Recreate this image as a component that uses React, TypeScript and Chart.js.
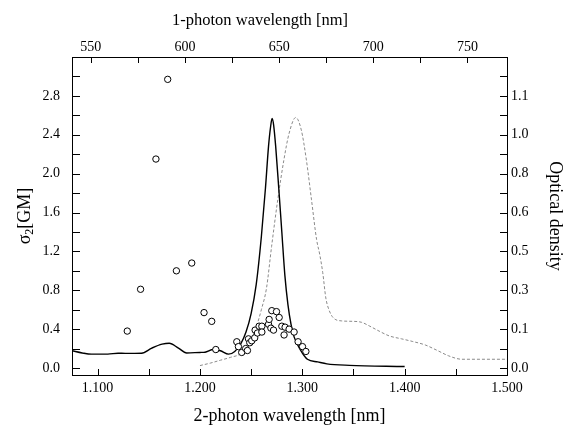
import React, { useEffect, useRef } from 'react';
import { Chart, registerables } from 'chart.js';

Chart.register(...registerables);

// ---- Data ----
// Two-photon cross-section measurements (x: 2-photon wavelength in nm, y: sigma2 in GM)
const tpaWavelength = [
  1129, 1142, 1157, 1168.5, 1177, 1192, 1204, 1211.5, 1215.5,
  1236, 1237.6, 1240.8, 1244.7, 1246.4, 1247.4, 1248.7, 1250.6, 1253.5, 1253.9,
  1256.2, 1257.8, 1260.5, 1260.5, 1267, 1267.6, 1269.3, 1270.2, 1274.8, 1271.9,
  1277.4, 1280, 1283.2, 1282.2, 1287.1, 1292, 1295.9, 1300.2, 1303.5,
];
const tpaSigma = [
  0.38, 0.81, 2.15, 2.97, 1.0, 1.08, 0.57, 0.48, 0.19,
  0.27, 0.22, 0.16, 0.2, 0.18, 0.3, 0.26, 0.28, 0.31, 0.39,
  0.36, 0.43, 0.43, 0.37, 0.45, 0.5, 0.41, 0.59, 0.58, 0.39,
  0.52, 0.43, 0.42, 0.34, 0.4, 0.37, 0.27, 0.22, 0.17,
];

// Solid curve (right axis units)
const solidWavelength = [
  1075, 1085, 1094, 1110, 1120, 1127, 1143, 1153, 1163, 1170, 1179, 1187, 1200, 1205,
  1213, 1220, 1228, 1234, 1240, 1245, 1250, 1255, 1260, 1264, 1267, 1269, 1270.5, 1272,
  1274, 1277, 1280, 1283, 1286, 1289, 1292, 1298, 1305, 1315, 1324, 1346, 1400,
];
const solidValue = [
  0.071, 0.062, 0.057, 0.057, 0.061, 0.06, 0.061, 0.082, 0.098, 0.102, 0.082, 0.062, 0.064, 0.065,
  0.076, 0.071, 0.057, 0.068, 0.1, 0.148, 0.224, 0.344, 0.54, 0.74, 0.912, 0.992, 1.027, 1.0,
  0.912, 0.74, 0.56, 0.38, 0.26, 0.18, 0.128, 0.076, 0.036, 0.025, 0.017, 0.011, 0.006,
];

// Dashed curve: optical density
const odWavelength = [
  1200, 1210, 1220, 1230, 1240, 1250, 1255, 1260, 1265, 1270, 1276, 1282, 1287, 1293.6,
  1299, 1304, 1309, 1314, 1317, 1320, 1323, 1326, 1330, 1338, 1350, 1358, 1366, 1375,
  1385, 1397, 1408, 1420, 1432, 1443, 1456, 1475, 1500,
];
const odValue = [
  0.01, 0.02, 0.032, 0.044, 0.06, 0.116, 0.168, 0.24, 0.328, 0.5, 0.692, 0.856, 0.964, 1.031,
  0.98, 0.856, 0.692, 0.528, 0.468, 0.392, 0.288, 0.24, 0.208, 0.194, 0.192, 0.188, 0.172, 0.152,
  0.132, 0.12, 0.109, 0.095, 0.072, 0.05, 0.036, 0.036, 0.036,
];

const leftTickLabels = ['0.0', '0.4', '0.8', '1.2', '1.6', '2.0', '2.4', '2.8'];
const rightTickLabels = ['0.0', '0.1', '0.3', '0.5', '0.6', '0.8', '1.0', '1.1'];

const FONT = "'Liberation Serif', 'Times New Roman', serif";

const frameTicks = {
  id: 'frameTicks',
  afterDatasetsDraw(chart: any) {
    const { ctx, chartArea: a, scales } = chart;
    ctx.save();
    ctx.strokeStyle = '#000';
    ctx.lineWidth = 1;
    const draw = (id: string, len: number) => {
      const s = scales[id];
      s.ticks.forEach((t: any) => {
        const p = Math.round(s.getPixelForValue(t.value)) + 0.5;
        ctx.beginPath();
        if (id === 'x') { ctx.moveTo(p, a.bottom); ctx.lineTo(p, a.bottom - len); }
        if (id === 'x2') { ctx.moveTo(p, a.top); ctx.lineTo(p, a.top + len); }
        if (id === 'y') { ctx.moveTo(a.left, p); ctx.lineTo(a.left + len, p); }
        if (id === 'y2') { ctx.moveTo(a.right, p); ctx.lineTo(a.right - len, p); }
        ctx.stroke();
      });
    };
    draw('x', 6);
    draw('x2', 6);
    draw('y', 8);
    draw('y2', 7);
    ctx.restore();
  },
  afterDraw(chart: any) {
    const { ctx } = chart;
    ctx.save();
    ctx.fillStyle = '#000';
    // top title
    ctx.font = `16.5px ${FONT}`;
    ctx.textAlign = 'center';
    ctx.textBaseline = 'middle';
    ctx.fillText('1-photon wavelength [nm]', 260, 21);
    // left title with subscript
    ctx.translate(25, 216);
    ctx.rotate(-Math.PI / 2);
    const big = `18px ${FONT}`;
    const small = `12px ${FONT}`;
    ctx.font = big;
    const wS = ctx.measureText('σ').width;
    const wB = ctx.measureText('[GM]').width;
    ctx.font = small;
    const w2 = ctx.measureText('2').width;
    const total = wS + w2 + wB;
    let x = -total / 2;
    ctx.textAlign = 'left';
    ctx.font = big;
    ctx.fillText('σ', x, 0);
    x += wS;
    ctx.font = small;
    ctx.fillText('2', x, 5);
    x += w2;
    ctx.font = big;
    ctx.fillText('[GM]', x, 0);
    ctx.restore();
  },
};

export default function App() {
  const ref = useRef<HTMLCanvasElement | null>(null);

  useEffect(() => {
    if (!ref.current) return;
    Chart.defaults.font.family = FONT;
    Chart.defaults.color = '#000';
    const noGrid = { display: false, drawTicks: false };
    const border = { display: true, color: '#000', width: 1 };
    const chart = new Chart(ref.current, {
      type: 'line',
      data: {
        datasets: [
          {
            type: 'scatter',
            label: 'σ2',
            data: tpaWavelength.map((x, i) => ({ x, y: tpaSigma[i] })),
            xAxisID: 'x',
            yAxisID: 'y',
            showLine: false,
            pointStyle: 'circle',
            pointRadius: 3.2,
            pointBorderWidth: 1,
            pointBorderColor: '#000',
            pointBackgroundColor: '#fff',
            order: 0,
          },
          {
            type: 'line',
            label: 'solid',
            data: solidWavelength.map((x, i) => ({ x, y: solidValue[i] })),
            xAxisID: 'x',
            yAxisID: 'y2',
            borderColor: '#000',
            borderWidth: 1.4,
            pointRadius: 0,
            cubicInterpolationMode: 'monotone',
            fill: false,
            order: 1,
          },
          {
            type: 'line',
            label: 'Optical density',
            data: odWavelength.map((x, i) => ({ x, y: odValue[i] })),
            xAxisID: 'x',
            yAxisID: 'y2',
            borderColor: '#8a8a8a',
            borderWidth: 1,
            borderDash: [3, 2],
            pointRadius: 0,
            cubicInterpolationMode: 'monotone',
            fill: false,
            order: 2,
          },
        ],
      },
      options: {
        animation: false,
        responsive: false,
        layout: { padding: 0 },
        plugins: { legend: { display: false }, tooltip: { enabled: false } },
        scales: {
          x: {
            type: 'linear',
            position: 'bottom',
            min: 1075,
            max: 1500,
            grid: noGrid,
            border,
            ticks: {
              stepSize: 50,
              includeBounds: false,
              autoSkip: false,
              maxRotation: 0,
              padding: 5,
              font: { size: 14 },
              callback: (v: any) => (v % 100 === 0 ? (v / 1000).toFixed(3) : ''),
            },
            title: {
              display: true,
              text: '2-photon wavelength [nm]',
              font: { size: 18, lineHeight: 1.1 },
              padding: { top: 0, bottom: 0 },
            },
            afterFit: (s: any) => { s.height = 51; },
          },
          x2: {
            type: 'linear',
            position: 'top',
            min: 540,
            max: 771,
            grid: noGrid,
            border,
            ticks: {
              stepSize: 25,
              includeBounds: false,
              autoSkip: false,
              maxRotation: 0,
              padding: 1,
              font: { size: 14 },
              callback: (v: any) => (v % 50 === 0 ? String(v) : ''),
            },
            afterFit: (s: any) => { s.height = 57; },
          },
          y: {
            type: 'linear',
            position: 'left',
            min: -0.072,
            max: 3.2,
            grid: noGrid,
            border,
            ticks: {
              stepSize: 0.2,
              includeBounds: false,
              autoSkip: false,
              padding: 12,
              font: { size: 14 },
              callback: (v: any) => {
                const i = Math.round(v / 0.2);
                if (i < 0 || i % 2 !== 0) return '';
                return leftTickLabels[i / 2] ?? '';
              },
            },
            afterFit: (s: any) => { s.width = 72; },
          },
          y2: {
            type: 'linear',
            position: 'right',
            min: -0.0288,
            max: 1.28,
            grid: noGrid,
            border,
            ticks: {
              stepSize: 0.08,
              includeBounds: false,
              autoSkip: false,
              padding: 4,
              font: { size: 14 },
              callback: (v: any) => {
                const i = Math.round(v / 0.08);
                if (i < 0 || i % 2 !== 0) return '';
                return rightTickLabels[i / 2] ?? '';
              },
            },
            title: {
              display: true,
              text: 'Optical density',
              font: { size: 18, lineHeight: 1.2 },
              padding: { top: 0, bottom: 0 },
            },
            afterFit: (s: any) => { s.width = 59; },
          },
        },
      },
      plugins: [frameTicks],
    } as any);
    return () => chart.destroy();
  }, []);

  return (
    <div style={{ position: 'fixed', left: 0, top: 0, width: 566, height: 426, background: '#fff' }}>
      <canvas ref={ref} width={566} height={426} />
    </div>
  );
}
